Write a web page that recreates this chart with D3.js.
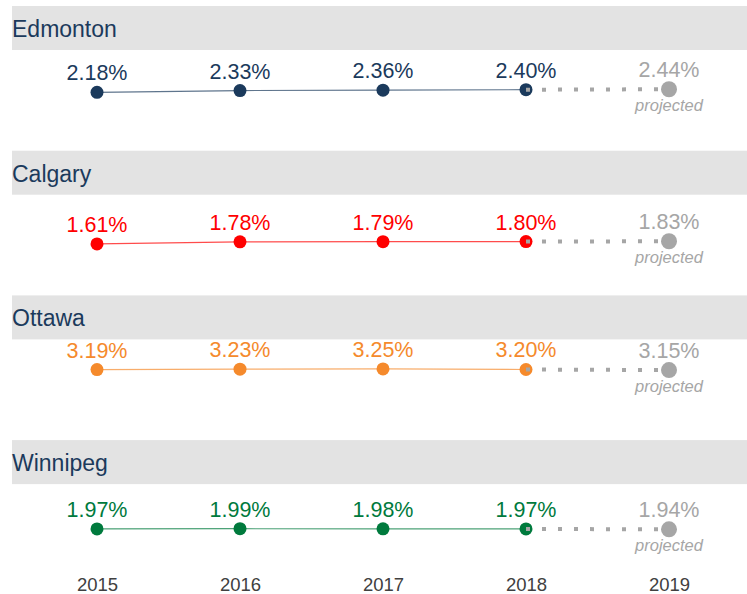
<!DOCTYPE html>
<html>
<head>
<meta charset="utf-8">
<script src="https://cdn.jsdelivr.net/npm/d3@7"></script>
<style>
	body { margin: 0; background: #fff; }
	svg { display: block; font-family: "Liberation Sans", Arial, sans-serif; }
</style>
</head>
<body>
<div id="root"></div>
<script>
const years = ["2015", "2016", "2017", "2018", "2019"];
const cities = ["Edmonton", "Calgary", "Ottawa", "Winnipeg"];
const edmontonValues = [2.18, 2.33, 2.36, 2.40, 2.44];
const calgaryValues = [1.61, 1.78, 1.79, 1.80, 1.83];
const ottawaValues = [3.19, 3.23, 3.25, 3.20, 3.15];
const winnipegValues = [1.97, 1.99, 1.98, 1.97, 1.94];
const cityColors = ["#1b3a5c", "#ff0000", "#f58a2c", "#007a3d"];

function whenDocumentLoaded(action) {
	if (document.readyState === "loading") {
		document.addEventListener("DOMContentLoaded", action);
	} else {
		action();
	}
}

function drawChart() {
	const width = 747;
	const height = 594;
	const panelStep = 144.7;
	const grey = "#a6a6a6";
	const allValues = [edmontonValues, calgaryValues, ottawaValues, winnipegValues];

	const x = d3.scalePoint().domain(years).range([97, 669]);
	// same y scale for every panel, relative to the panel top
	const y = d3.scaleLinear().domain([0, 4]).range([112.5, 64.5]);

	let svg = d3.select("#root")
				.append("svg")
				.attr("width", width)
				.attr("height", height);

	cities.forEach((city, i) => {
		const values = allValues[i];
		const color = cityColors[i];
		const data = years.map((yr, j) => ({year: yr, value: values[j]}));
		const actual = data.slice(0, 4);
		const projected = data.slice(3);

		let panel = svg.append("g")
			.attr("class", "panel")
			.attr("transform", "translate(0," + (6 + i * panelStep) + ")");

		// header band
		panel.append("rect")
			.attr("x", 12)
			.attr("y", 0)
			.attr("width", width - 12)
			.attr("height", 44)
			.attr("fill", "#e3e3e3");

		panel.append("text")
			.attr("x", 12)
			.attr("y", 31)
			.attr("font-size", 23)
			.attr("fill", "#1b3a5c")
			.text(city);

		const line = d3.line()
			.x(d => x(d.year))
			.y(d => y(d.value));

		panel.append("path")
			.datum(actual)
			.attr("d", line)
			.attr("fill", "none")
			.attr("stroke", color)
			.attr("stroke-opacity", 0.7)
			.attr("stroke-width", 1.2);

		panel.selectAll(".dot")
			.data(actual)
			.enter()
			.append("circle")
			.attr("class", "dot")
			.attr("cx", d => x(d.year))
			.attr("cy", d => y(d.value))
			.attr("r", 6.5)
			.attr("fill", color);

		// dotted projection
		panel.append("path")
			.datum(projected)
			.attr("d", line)
			.attr("fill", "none")
			.attr("stroke", grey)
			.attr("stroke-width", 4)
			.attr("stroke-dasharray", "4,12");

		const last = projected[1];
		panel.append("circle")
			.attr("cx", x(last.year))
			.attr("cy", y(last.value))
			.attr("r", 8)
			.attr("fill", grey);

		panel.selectAll(".val")
			.data(data)
			.enter()
			.append("text")
			.attr("class", "val")
			.attr("x", d => x(d.year))
			.attr("y", d => y(d.value) - 12)
			.attr("text-anchor", "middle")
			.attr("font-size", 21.5)
			.attr("fill", (d, j) => j === 4 ? grey : color)
			.text(d => d.value.toFixed(2) + "%");

		panel.append("text")
			.attr("x", x(last.year))
			.attr("y", y(last.value) + 22)
			.attr("text-anchor", "middle")
			.attr("font-size", 16.5)
			.attr("font-style", "italic")
			.attr("fill", grey)
			.text("projected");
	});

	// year axis at the bottom
	const axis = svg.append("g")
		.attr("transform", "translate(0,591)")
		.call(d3.axisBottom(x).tickSize(0).tickPadding(0));
	axis.select(".domain").remove();
	axis.selectAll("text")
		.attr("dy", 0)
		.attr("y", 0)
		.attr("font-family", "Liberation Sans, Arial, sans-serif")
		.attr("font-size", 18.5)
		.attr("fill", "#404040");
}

whenDocumentLoaded(drawChart);
</script>
</body>
</html>
